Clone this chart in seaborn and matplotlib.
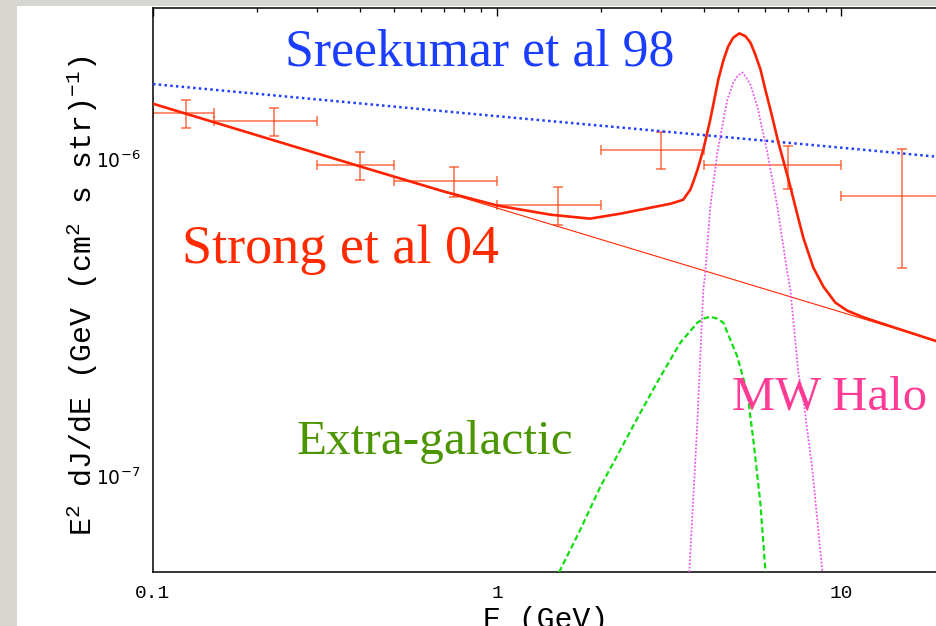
import numpy as np
import matplotlib
matplotlib.use("Agg")
import matplotlib.pyplot as plt
import seaborn as sns
from matplotlib import ticker
from matplotlib.patches import Rectangle

# ---------------- data ----------------
# Sreekumar et al 98 power law (blue dotted)
E_sree = [0.1, 1.0, 10.0, 20.0]
V_sree = [1.73e-6, 1.37e-6, 1.09e-6, 1.015e-6]

# Strong et al 04 background (thin red)
E_strong = [0.1, 1.0, 10.0, 20.0]
V_strong = [1.50e-6, 7.03e-7, 3.30e-7, 2.63e-7]

# total (thick red)
E_total = [0.1, 0.2, 0.4, 0.7, 1.0, 1.43, 1.86, 2.28, 2.79, 3.2, 3.47, 3.64,
           3.72, 3.82, 3.97, 4.16, 4.39, 4.54, 4.69, 4.85, 5.05, 5.26, 5.44,
           5.62, 5.82, 6.01, 6.22, 6.56, 7.02, 7.45, 7.75, 8.29, 8.87, 9.61,
           10.4, 11.59, 13.0, 20.0]
V_total = [1.50e-6, 1.194e-6, 9.51e-7, 7.93e-7, 7.16e-7, 6.70e-7, 6.51e-7,
           6.75e-7, 7.05e-7, 7.26e-7, 7.47e-7, 8.04e-7, 8.55e-7, 9.30e-7,
           1.075e-6, 1.337e-6, 1.789e-6, 2.054e-6, 2.275e-6, 2.423e-6, 2.50e-6,
           2.451e-6, 2.34e-6, 2.146e-6, 1.924e-6, 1.663e-6, 1.438e-6, 1.132e-6,
           8.65e-7, 6.70e-7, 5.67e-7, 4.56e-7, 3.97e-7, 3.535e-7, 3.337e-7,
           3.18e-7, 3.05e-7, 2.62e-7]

# MW halo (magenta dotted)
E_halo = [3.615, 3.815, 3.97, 4.024, 4.161, 4.36, 4.663, 4.853, 5.003, 5.155,
          5.293, 5.439, 5.70, 6.094, 6.516, 6.966, 7.108, 7.499, 7.754, 8.236,
          8.807]
V_halo = [5.0e-8, 1.478e-7, 3.886e-7, 4.395e-7, 7.105e-7, 1.052e-6, 1.547e-6,
          1.750e-6, 1.842e-6, 1.882e-6, 1.815e-6, 1.725e-6, 1.470e-6, 1.052e-6,
          7.105e-7, 4.395e-7, 3.886e-7, 2.125e-7, 1.747e-7, 1.050e-7, 5.0e-8]

# Extra-galactic (green dashed)
E_extra = [1.48, 1.524, 1.743, 1.993, 2.279, 2.604, 2.978, 3.404, 3.815, 3.97,
           4.161, 4.36, 4.539, 4.986, 5.330, 5.549, 5.815, 6.013, 6.06]
V_extra = [4.7e-8, 5.07e-8, 6.79e-8, 9.28e-8, 1.214e-7, 1.589e-7, 2.064e-7,
           2.644e-7, 3.058e-7, 3.148e-7, 3.194e-7, 3.148e-7, 3.058e-7, 2.388e-7,
           1.838e-7, 1.305e-7, 8.26e-8, 5.07e-8, 4.7e-8]

# EGRET data points with bins
E_pts = np.array([0.125, 0.225, 0.40, 0.75, 1.5, 3.0, 7.0, 15.0])
E_lo = np.array([0.10, 0.15, 0.30, 0.50, 1.0, 2.0, 4.0, 10.0])
E_hi = np.array([0.15, 0.30, 0.50, 1.0, 2.0, 4.0, 10.0, 20.0])
V_pts = np.array([1.40e-6, 1.325e-6, 9.6e-7, 8.58e-7, 7.21e-7, 1.075e-6, 9.6e-7, 7.66e-7])
V_lo = np.array([1.26e-6, 1.19e-6, 8.65e-7, 7.62e-7, 6.20e-7, 9.37e-7, 8.1e-7, 4.54e-7])
V_hi = np.array([1.54e-6, 1.456e-6, 1.06e-6, 9.48e-7, 8.18e-7, 1.223e-6, 1.10e-6, 1.078e-6])

# ---------------- style ----------------
sns.set_theme(style="white")
plt.rcParams.update({
    "font.family": ["Liberation Mono", "DejaVu Sans Mono"],
    "mathtext.fontset": "custom",
    "mathtext.rm": "Liberation Mono",
    "mathtext.it": "Liberation Mono",
    "mathtext.bf": "Liberation Mono",
    "axes.edgecolor": "black",
    "axes.linewidth": 1.1,
})

W, H = 937, 626
fig = plt.figure(figsize=(W / 100, H / 100), dpi=100, facecolor="#d8d6d1")
fig.patches.append(Rectangle((17 / W, 0), 1, 1 - 6 / H, transform=fig.transFigure,
                             facecolor="white", edgecolor="none", zorder=-10))

ax_l, ax_r, ax_t, ax_b = 153, 945, 8.3, 572
ax = fig.add_axes([ax_l / W, 1 - ax_b / H, (ax_r - ax_l) / W, (ax_b - ax_t) / H])
ax.set_facecolor("white")
ax.set_xscale("log")
ax.set_yscale("log")

# error bars
ax.errorbar(E_pts, V_pts, xerr=[E_pts - E_lo, E_hi - E_pts],
            yerr=[V_pts - V_lo, V_hi - V_pts], fmt="none", ecolor="#ff3300",
            alpha=0.72, elinewidth=1.1, capsize=3.5, capthick=1.1, zorder=2)

sns.lineplot(x=E_sree, y=V_sree, ax=ax, color="#1f40ff", lw=1.8,
             linestyle=(0, (1, 1.3)), estimator=None, zorder=3)
sns.lineplot(x=E_strong, y=V_strong, ax=ax, color="#ff2a00", lw=0.8,
             estimator=None, zorder=3)
sns.lineplot(x=E_extra, y=V_extra, ax=ax, color="#11dd11", lw=1.6,
             linestyle=(0, (2.6, 1.4)), estimator=None, zorder=3)
sns.lineplot(x=E_halo, y=V_halo, ax=ax, color="#ee55ee", lw=1.3,
             linestyle=(0, (1, 1)), estimator=None, zorder=3)
sns.lineplot(x=E_total, y=V_total, ax=ax, color="#ff2200", lw=1.9,
             estimator=None, zorder=4)

ax.set_xlim(0.1, 20)
ax.set_ylim(5e-8, 3e-6)

ax.xaxis.set_major_formatter(ticker.FuncFormatter(lambda v, p: f"{v:g}"))
ax.xaxis.set_minor_formatter(ticker.NullFormatter())
ax.yaxis.set_minor_formatter(ticker.NullFormatter())

ax.tick_params(which="both", direction="in", top=True, right=True,
               color="black", labelcolor="black")
ax.tick_params(which="major", length=6, width=1.0)
ax.tick_params(which="minor", length=2.8, width=0.9)
ax.tick_params(axis="x", labelsize=14, pad=9, labelfontfamily="Liberation Mono")
ax.tick_params(axis="y", labelsize=13.5, pad=9, labelfontfamily="DejaVu Sans")
for s in ax.spines.values():
    s.set_color("black")
    s.set_linewidth(1.1)

ax.set_ylabel(r"E$^2$ dJ/dE (GeV (cm$^2$ s str)$^{-1}$)", fontsize=21.5,
              family="Liberation Mono", color="black")
ax.yaxis.set_label_coords((100 - ax_l) / (ax_r - ax_l), 0.49)
ax.set_xlabel("E (GeV)", fontsize=21.5, family="Liberation Mono", color="black")
ax.xaxis.set_label_coords((546 - ax_l) / (ax_r - ax_l), (ax_b - 606) / (ax_b - ax_t))

serif = "Liberation Serif"
fig.text(285 / W, 1 - 65 / H, "Sreekumar et al 98", color="#1a3dff", fontsize=37.3,
         family=serif, ha="left", va="baseline")
fig.text(182 / W, 1 - 263 / H, "Strong et al 04", color="#ff2a00", fontsize=39,
         family=serif, ha="left", va="baseline")
fig.text(297 / W, 1 - 454 / H, "Extra-galactic", color="#4b9500", fontsize=35.5,
         family=serif, ha="left", va="baseline")
fig.text(732 / W, 1 - 410 / H, "MW Halo", color="#ff3b96", fontsize=35,
         family=serif, ha="left", va="baseline")

fig.savefig("out.png", dpi=100, facecolor=fig.get_facecolor())
